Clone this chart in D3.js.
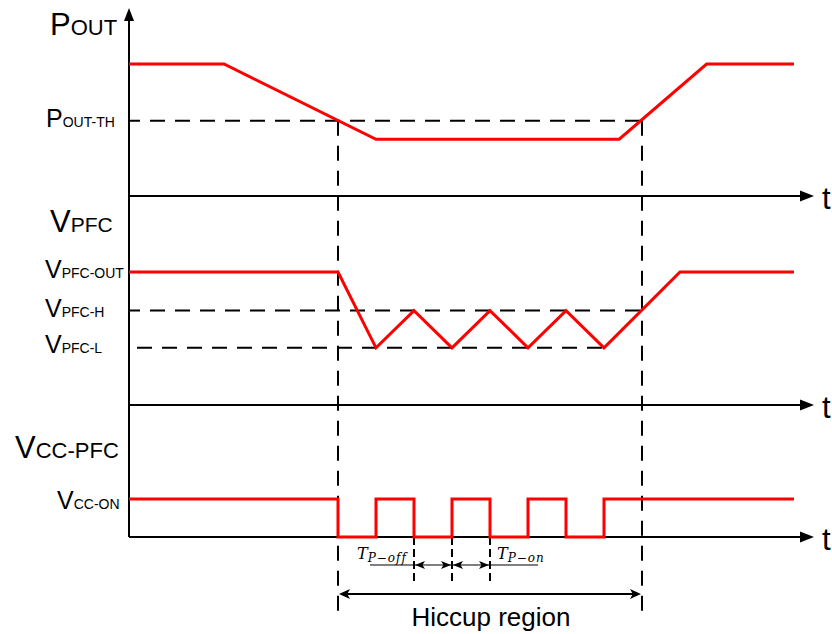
<!DOCTYPE html>
<html><head><meta charset="utf-8">
<script src="https://cdn.jsdelivr.net/npm/d3@7"></script>
<style>body{margin:0;background:#fff}svg{display:block}</style>
</head><body>
<script>
// ---- data ----
const poutT = [-5.5, -3, 1, 7.4, 9.7, 12];
const poutV = [100, 100, 43, 43, 100, 100];
const poutTH = 57;
const vpfcT = [-5.5, 0, 1, 2, 3, 4, 5, 6, 7, 9, 12];
const vpfcV = [100, 100, 43, 71, 43, 71, 43, 71, 43, 100, 100];
const vpfcH = 71, vpfcL = 43;
const vccT = [-5.5, 0, 1, 2, 3, 4, 5, 6, 7, 12];
const vccV = [1, 0, 1, 0, 1, 0, 1, 0, 1, 1];
const hiccupStart = 0, hiccupEnd = 8;
const periodMarks = [2, 3, 4];

const W = 832, H = 634;
const svg = d3.select("body").append("svg").attr("width", W).attr("height", H);
const x = d3.scaleLinear().domain([-5.5, 12.5]).range([129, 813]);
const yP = d3.scaleLinear().domain([0, 100]).range([196, 64]);
const yV = d3.scaleLinear().domain([0, 100]).range([405, 272]);
const yC = d3.scaleLinear().domain([0, 1]).range([537, 499]);
const FONT = "'Liberation Sans', Arial, sans-serif";
const RED = "#ff0000";
const DASH = "15,10";

// axes
const x0 = x(-5.5);
svg.append("line").attr("x1", x0).attr("x2", x0).attr("y1", yC(0)).attr("y2", 18)
  .attr("stroke", "#000").attr("stroke-width", 2);
svg.append("path").attr("d", `M${x0-5},21L${x0+5},21L${x0},8Z`).attr("fill", "#000");
[yP(0), yV(0), yC(0)].forEach(yy => {
  svg.append("line").attr("x1", x0).attr("x2", 803).attr("y1", yy).attr("y2", yy)
    .attr("stroke", "#000").attr("stroke-width", 2);
  svg.append("path").attr("d", `M800,${yy-5.5}L800,${yy+5.5}L814,${yy}Z`).attr("fill", "#000");
  svg.append("text").attr("x", 822).attr("y", yy + 13).text("t")
    .attr("font-family", FONT).attr("font-size", 31);
});

// dashed reference lines
function hdash(y, t1, off) {
  svg.append("line").attr("x1", x0).attr("x2", x(t1)).attr("y1", y).attr("y2", y)
    .attr("stroke", "#000").attr("stroke-width", 2).attr("stroke-dasharray", DASH)
    .attr("stroke-dashoffset", off || 0);
}
hdash(yP(poutTH), hiccupEnd, 4);
hdash(yV(vpfcH), hiccupEnd, 4);
hdash(yV(vpfcL), vpfcT[8], 17);
[hiccupStart, hiccupEnd].forEach(t => {
  svg.append("line").attr("x1", x(t)).attr("x2", x(t)).attr("y1", yP(poutTH)).attr("y2", 611)
    .attr("stroke", "#000").attr("stroke-width", 2).attr("stroke-dasharray", DASH);
});
periodMarks.forEach(t => {
  svg.append("line").attr("x1", x(t)).attr("x2", x(t)).attr("y1", yC(0)).attr("y2", 583)
    .attr("stroke", "#000").attr("stroke-width", 2).attr("stroke-dasharray", "8,4");
});

// red signals
const mk = (T, V) => T.map((t, i) => [t, V[i]]);
svg.append("path").datum(mk(poutT, poutV))
  .attr("d", d3.line().x(d => x(d[0])).y(d => yP(d[1])))
  .attr("fill", "none").attr("stroke", RED).attr("stroke-width", 3);
svg.append("path").datum(mk(vpfcT, vpfcV))
  .attr("d", d3.line().x(d => x(d[0])).y(d => yV(d[1])))
  .attr("fill", "none").attr("stroke", RED).attr("stroke-width", 3);
svg.append("path").datum(mk(vccT, vccV))
  .attr("d", d3.line().x(d => x(d[0])).y(d => yC(d[1])).curve(d3.curveStepAfter))
  .attr("fill", "none").attr("stroke", RED).attr("stroke-width", 3);

// labels
function label(xx, y, big, bs, small, ss) {
  const t = svg.append("text").attr("x", xx).attr("y", y).attr("font-family", FONT);
  t.append("tspan").attr("font-size", bs).text(big);
  t.append("tspan").attr("font-size", ss).text(small);
}
label(50, 35, "P", 31, "OUT", 22);
label(46, 127, "P", 25, "OUT-TH", 14);
label(50, 232, "V", 31, "PFC", 21);
label(45, 278, "V", 25, "PFC-OUT", 14);
label(45, 317, "V", 25, "PFC-H", 14);
label(45, 353, "V", 25, "PFC-L", 14);
label(15, 458, "V", 31, "CC-PFC", 22);
label(57, 509, "V", 25, "CC-ON", 14);

// period annotations
const ya = 565;
svg.append("line").attr("x1", 370).attr("x2", 538).attr("y1", ya).attr("y2", ya)
  .attr("stroke", "#000").attr("stroke-width", 1.2);
function arrowHead(tip, y, dir, len, hw) {
  svg.append("path").attr("d", `M${tip},${y}L${tip - dir*len},${y-hw}L${tip - dir*len*0.75},${y}L${tip - dir*len},${y+hw}Z`)
    .attr("fill", "#000");
}
[[2, 3], [3, 4]].forEach(([a, b]) => {
  arrowHead(x(a) + 1, ya, -1, 10, 4);
  arrowHead(x(b) - 1, ya, 1, 10, 4);
});
function mathLabel(xx, y, sub) {
  const t = svg.append("text").attr("x", xx).attr("y", y)
    .attr("font-family", "'DejaVu Serif', 'Liberation Serif', serif").attr("font-style", "italic");
  t.append("tspan").attr("font-size", 16).text("T");
  t.append("tspan").attr("font-size", 12).attr("dy", 3).attr("letter-spacing", 1).text(sub);
}
mathLabel(357, 559, "P\u2212off");
mathLabel(497, 559, "P\u2212on");

// hiccup region
const yh = 594;
svg.append("line").attr("x1", x(hiccupStart) + 4).attr("x2", x(hiccupEnd) - 4).attr("y1", yh).attr("y2", yh)
  .attr("stroke", "#000").attr("stroke-width", 2);
arrowHead(x(hiccupStart) + 1, yh, -1, 11, 5);
arrowHead(x(hiccupEnd) - 1, yh, 1, 11, 5);
svg.append("text").attr("x", (x(hiccupStart) + x(hiccupEnd)) / 2 + 1).attr("y", 626)
  .attr("text-anchor", "middle").attr("font-family", FONT).attr("font-size", 26).text("Hiccup region");
</script>
</body></html>
